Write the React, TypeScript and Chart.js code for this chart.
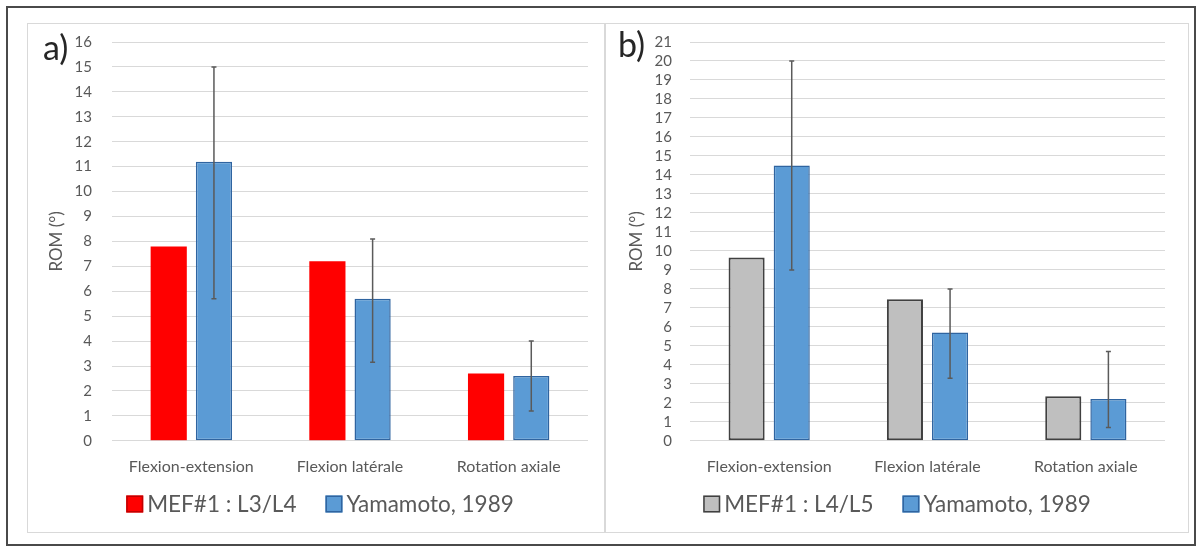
import React, { useEffect, useRef } from 'react';
import { Chart, registerables } from 'chart.js';

Chart.register(...registerables);

const categories = ['Flexion-extension', 'Flexion latérale', 'Rotation axiale'];

const mefL3L4 = [7.8, 7.2, 2.7];
const yamamotoA = [11.2, 5.7, 2.6];
const yamamotoALow = [5.7, 3.15, 1.2];
const yamamotoAHigh = [15.0, 8.1, 4.0];

const mefL4L5 = [9.65, 7.45, 2.35];
const yamamotoB = [14.5, 5.7, 2.2];
const yamamotoBLow = [9.0, 3.3, 0.7];
const yamamotoBHigh = [20.0, 8.0, 4.7];

const yMaxA = 16;
const yMaxB = 21;

const FONT = 'Lato, "Open Sans", sans-serif';
const GRAY_TEXT = '#595959';

const errorBarsPlugin = {
  id: 'errorBars',
  afterDatasetsDraw(chart: any) {
    const ctx = chart.ctx;
    const yScale = chart.scales.y;
    chart.data.datasets.forEach((ds: any, i: number) => {
      if (!ds.errLow || !ds.errHigh) return;
      const meta = chart.getDatasetMeta(i);
      meta.data.forEach((el: any, j: number) => {
        const x = el.x;
        const yl = yScale.getPixelForValue(ds.errLow[j]);
        const yh = yScale.getPixelForValue(ds.errHigh[j]);
        ctx.save();
        ctx.strokeStyle = '#5a5a5a';
        ctx.lineWidth = 1.5;
        ctx.beginPath();
        ctx.moveTo(x, yl);
        ctx.lineTo(x, yh);
        ctx.moveTo(x - 2.5, yl);
        ctx.lineTo(x + 2.5, yl);
        ctx.moveTo(x - 2.5, yh);
        ctx.lineTo(x + 2.5, yh);
        ctx.stroke();
        ctx.restore();
      });
    });
  },
};

const customLegendPlugin = {
  id: 'customLegend',
  afterDraw(chart: any, _args: any, opts: any) {
    const ctx = chart.ctx;
    const fontSize = opts.fontSize || 22;
    const box = opts.box || 17;
    const gap = opts.gap || 4;
    const itemGap = opts.itemGap || 31;
    ctx.save();
    ctx.font = `${fontSize}px ${FONT}`;
    const items = chart.data.datasets.map((ds: any) => ({
      label: ds.label,
      fill: ds.legendFill || ds.backgroundColor,
      stroke: ds.legendStroke || ds.borderColor,
      w: ctx.measureText(ds.label).width,
    }));
    const total = items.reduce((s: number, it: any) => s + box + gap + it.w, 0) + itemGap * (items.length - 1);
    let x = (chart.width - total) / 2 + (opts.shift || 0);
    const y = opts.y;
    items.forEach((it: any) => {
      ctx.fillStyle = it.fill;
      ctx.fillRect(x, y - box / 2, box, box);
      ctx.strokeStyle = it.stroke;
      ctx.lineWidth = 1.5;
      ctx.strokeRect(x + 0.75, y - box / 2 + 0.75, box - 1.5, box - 1.5);
      ctx.fillStyle = GRAY_TEXT;
      ctx.textBaseline = 'middle';
      ctx.textAlign = 'left';
      ctx.fillText(it.label, x + box + gap, y + 1);
      x += box + gap + it.w + itemGap;
    });
    ctx.restore();
  },
};

const panelLabelPlugin = {
  id: 'panelLabel',
  afterDraw(chart: any, _args: any, opts: any) {
    const ctx = chart.ctx;
    ctx.save();
    ctx.font = `34px ${FONT}`;
    ctx.fillStyle = '#262626';
    ctx.textBaseline = 'middle';
    ctx.textAlign = 'left';
    ctx.fillText(opts.text, opts.x, opts.y);
    ctx.restore();
  },
};

function makeConfig(
  datasets: any[],
  yMax: number,
  titlePad: number,
  tickGap: number,
  rightPad: number,
  axisWidth: number,
  label: string,
  labelX: number,
  labelY: number,
  legendShift: number
): any {
  return {
    type: 'bar',
    data: { labels: categories, datasets },
    options: {
      animation: false,
      responsive: false,
      maintainAspectRatio: false,
      layout: { padding: { top: 18, right: rightPad, bottom: 39, left: 0 } },
      datasets: {
        bar: {
          categoryPercentage: 0.57,
          barPercentage: 0.8,
          borderSkipped: false,
        },
      },
      scales: {
        x: {
          grid: { display: false, drawTicks: false },
          border: { display: false },
          ticks: {
            color: GRAY_TEXT,
            font: { family: FONT, size: 16 },
            padding: 16,
          },
        },
        y: {
          min: 0,
          max: yMax,
          grid: {
            color: '#d9d9d9',
            lineWidth: 1,
            drawTicks: true,
            tickLength: tickGap,
            tickColor: 'rgba(0,0,0,0)',
          },
          border: { display: false },
          afterFit: (scale: any) => {
            scale.width = axisWidth;
          },
          ticks: {
            stepSize: 1,
            autoSkip: false,
            color: GRAY_TEXT,
            font: { family: FONT, size: 15 },
            padding: 0,
          },
          title: {
            display: true,
            text: 'ROM (°)',
            color: GRAY_TEXT,
            font: { family: FONT, size: 17 },
            padding: { top: titlePad, bottom: 0 },
          },
        },
      },
      plugins: {
        legend: { display: false },
        tooltip: { enabled: false },
        customLegend: { y: 480, fontSize: 22.5, box: 17, gap: 4, itemGap: 29, shift: legendShift },
        panelLabel: { text: label, x: labelX, y: labelY },
      },
    },
    plugins: [errorBarsPlugin, customLegendPlugin, panelLabelPlugin],
  };
}

function BarPanel({ config, width, height }: { config: any; width: number; height: number }) {
  const ref = useRef<HTMLCanvasElement | null>(null);
  useEffect(() => {
    if (!ref.current) return;
    const chart = new Chart(ref.current, config);
    return () => chart.destroy();
  }, [config]);
  return <canvas ref={ref} width={width} height={height} style={{ width, height, display: 'block' }} />;
}

const configA = makeConfig(
  [
    {
      label: 'MEF#1 : L3/L4',
      data: mefL3L4,
      backgroundColor: '#ff0000',
      borderColor: '#ff0000',
      borderWidth: 0,
      legendStroke: '#c00000',
    },
    {
      label: 'Yamamoto, 1989',
      data: yamamotoA,
      backgroundColor: '#5b9bd5',
      borderColor: '#2f64a0',
      borderWidth: 1.5,
      errLow: yamamotoALow,
      errHigh: yamamotoAHigh,
    },
  ],
  yMaxA,
  18,
  20,
  16,
  84,
  'a)',
  15,
  25,
  4
);

const configB = makeConfig(
  [
    {
      label: 'MEF#1 : L4/L5',
      data: mefL4L5,
      backgroundColor: '#bfbfbf',
      borderColor: '#404040',
      borderWidth: 2,
    },
    {
      label: 'Yamamoto, 1989',
      data: yamamotoB,
      backgroundColor: '#5b9bd5',
      borderColor: '#2f64a0',
      borderWidth: 1.5,
      errLow: yamamotoBLow,
      errHigh: yamamotoBHigh,
    },
  ],
  yMaxB,
  19,
  18,
  22,
  83,
  'b)',
  11,
  22,
  0
);

export default function App() {
  return (
    <div style={{ position: 'absolute', left: 0, top: 0, width: 1198, height: 548, background: '#ffffff' }}>
      <div
        style={{
          position: 'absolute',
          left: 6,
          top: 6,
          width: 1190,
          height: 540,
          boxSizing: 'border-box',
          border: '2px solid #4a4a4a',
        }}
      />
      <div
        style={{
          position: 'absolute',
          left: 27,
          top: 23,
          width: 1162,
          height: 510,
          boxSizing: 'border-box',
          border: '1px solid #d9d9d9',
        }}
      />
      <div style={{ position: 'absolute', left: 604, top: 23, width: 2, height: 510, background: '#d9d9d9' }} />
      <div style={{ position: 'absolute', left: 28, top: 24 }}>
        <BarPanel config={configA} width={576} height={507} />
      </div>
      <div style={{ position: 'absolute', left: 607, top: 24 }}>
        <BarPanel config={configB} width={580} height={507} />
      </div>
    </div>
  );
}
